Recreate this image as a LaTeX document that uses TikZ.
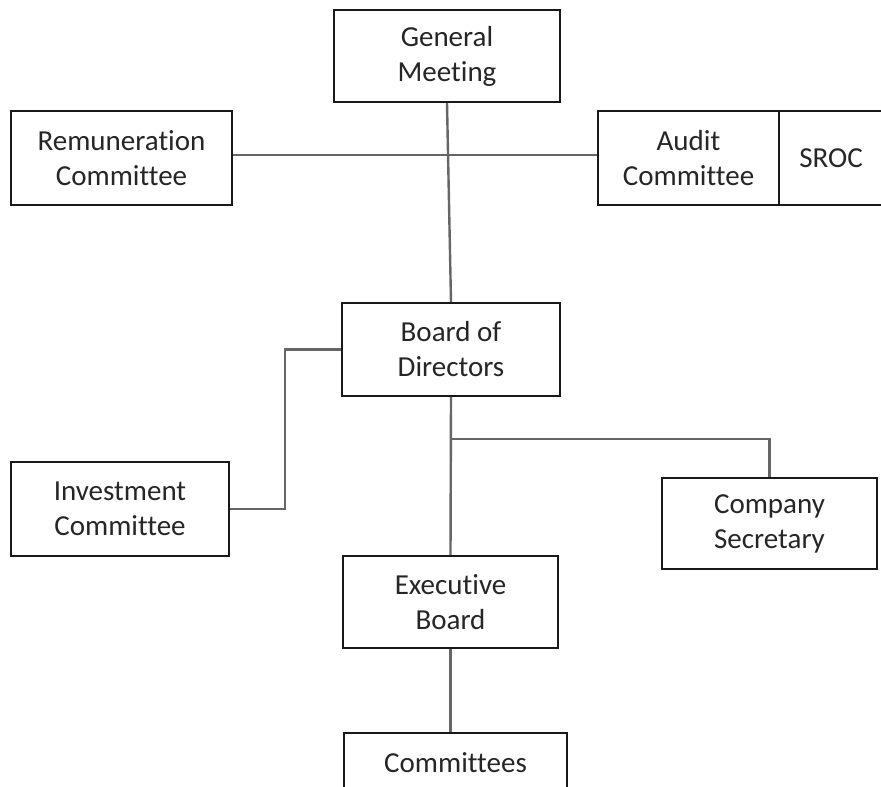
\documentclass[tikz,border=0pt]{standalone}
\usepackage{fontspec}
\setmainfont{Carlito}[Ligatures=NoCommon]
\begin{document}
\begin{tikzpicture}[x=1pt,y=-1pt,
  box/.style={draw=black!90,line width=2.2pt,fill=white,inner sep=0pt,align=center,
    font=\fontsize{29}{35}\selectfont,text=black!85},
  link/.style={draw=black!60,line width=2.4pt}]
\useasboundingbox (0,0) rectangle (881,787);
\clip (0,0) rectangle (881,787);
\node[box,minimum width=226pt,minimum height=92pt] (GM) at (447,56) {General\\Meeting};
\node[box,minimum width=221pt,minimum height=94pt] (Rem) at (121.5,158) {Remuneration\\Committee};
\node[box,minimum width=181pt,minimum height=94pt] (Aud) at (688.5,158) {Audit\\Committee};
\node[box,minimum width=104pt,minimum height=94pt] (SROC) at (831,158) {SROC};
\node[box,minimum width=218pt,minimum height=93pt] (BoD) at (451,349.5) {Board of\\Directors};
\node[box,minimum width=218pt,minimum height=94pt] (Inv) at (120,509) {Investment\\Committee};
\node[box,minimum width=215pt,minimum height=91pt] (CS) at (769.5,523.5) {Company\\Secretary};
\node[box,minimum width=215pt,minimum height=92pt] (EB) at (450.5,602) {Executive\\Board};
\node[box,minimum width=223pt,minimum height=60pt] (Com) at (455.5,763) {Committees};
\coordinate (br) at (451,439);
\draw[link] (GM.south) -- (BoD.north);
\draw[link] ([yshift=3pt]Rem.east) -- ([yshift=3pt]Aud.west);
\draw[link] (BoD.west) -- ++(-56,0) |- (Inv.east);
\draw[link] (BoD.south) -- (EB.north);
\draw[link] (br) -| (CS.north);
\draw[link] (EB.south) -- (EB.south |- Com.north);
\end{tikzpicture}
\end{document}
